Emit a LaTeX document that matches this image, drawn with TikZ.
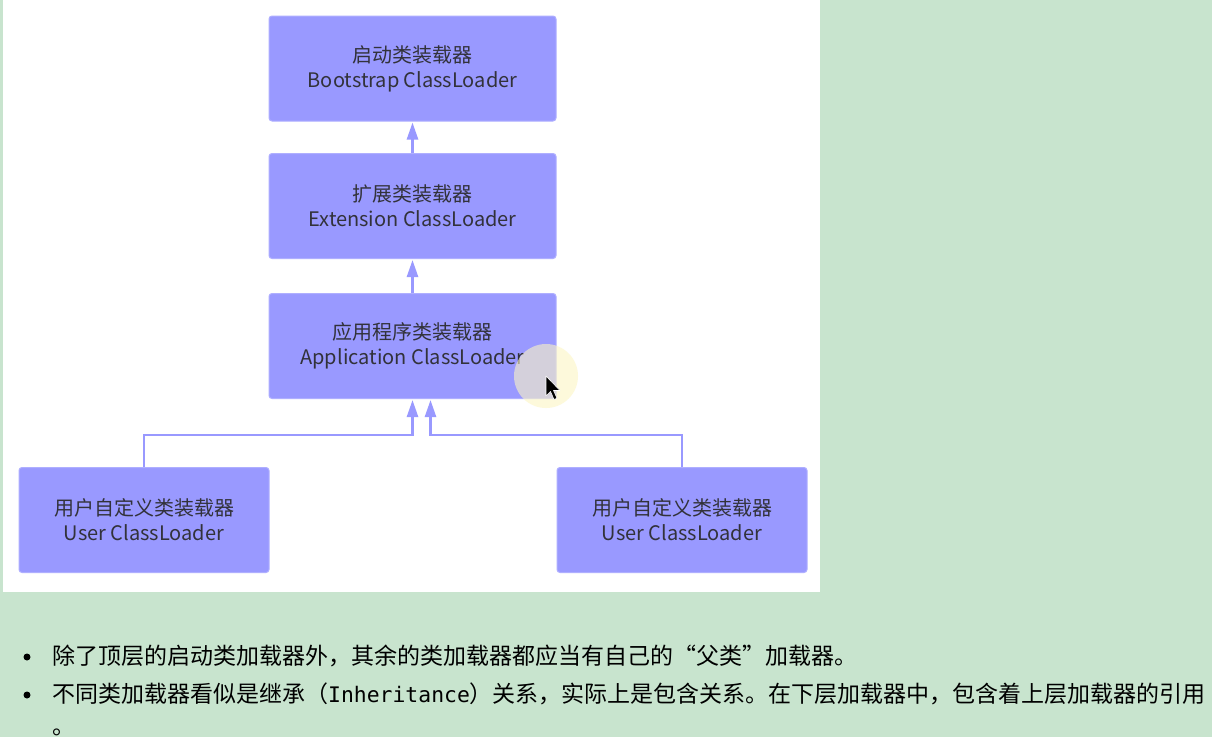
\documentclass[tikz,border=0pt]{standalone}
\usepackage{fontspec}
\newfontfamily\cjk{Noto Sans CJK SC}
\newfontfamily\monof{DejaVu Sans Mono}
\usetikzlibrary{arrows.meta}
\definecolor{bg}{RGB}{200,228,206}
\definecolor{boxc}{RGB}{153,153,255}
\definecolor{boxedge}{RGB}{175,175,255}
\definecolor{txt}{RGB}{50,50,58}
\definecolor{hl}{RGB}{252,246,196}
\begin{document}
\begin{tikzpicture}[x=1pt,y=-1pt,
  loader/.style={draw=boxedge, line width=1pt, fill=boxc, rounded corners=3pt,
    minimum width=287pt, minimum height=105pt, inner sep=0pt, align=center,
    font=\cjk\fontsize{20}{25}\selectfont, text=txt},
  userbox/.style={loader, minimum width=250pt},
  conn/.style={draw=boxc, line width=2.5pt, -{Triangle[length=17pt,width=11pt]}},
  para/.style={anchor=base west, inner sep=0pt, font=\cjk\fontsize{23}{23}\selectfont, text=black}]
\useasboundingbox (0,0) rectangle (1212,737);
\fill[bg] (0,0) rectangle (1212,737);
\fill[white] (3,0) rectangle (820,592);

\node[loader] (boot) at (412.5,68.5) {启动类装载器\\Bootstrap ClassLoader};
\node[loader] (ext) at (412.5,206) {扩展类装载器\\Extension ClassLoader};
\node[loader] (app) at (412.5,346) {应用程序类装载器\\Application ClassLoader};
\node[userbox] (ul) at (144,520) {用户自定义类装载器\\User ClassLoader};
\node[userbox] (ur) at (682,520) {用户自定义类装载器\\User ClassLoader};

\coordinate (aL) at ([yshift=-1pt]app.south);
\coordinate (aR) at ([xshift=18pt,yshift=-1pt]app.south);

\draw[conn] (ext.north) -- ([yshift=-1pt]boot.south);
\draw[conn] (app.north) -- ([yshift=-1pt]ext.south);
\draw[conn] (ul.north) |- ([yshift=-35pt]aL) -- (aL);
\draw[conn] (ur.north) |- ([yshift=-35pt]aR) -- (aR);

% screen cursor highlight
\fill[hl, opacity=0.6] (546,376) circle (32pt);
\filldraw[black, draw=white, line width=0.6pt, line join=round]
  (546,376) -- (546,396) -- (550.5,391.5) -- (554,399.5) -- (557,398.2) -- (553.5,390.5) -- (560,390.5) -- cycle;

% bullets
\fill[black] (27,657) circle (3.5pt);
\fill[black] (27,695) circle (3.5pt);
\node[para] (l1) at (52,664) {除了顶层的启动类加载器外，其余的类加载器都应当有自己的“父类”加载器。};
\node[para] (l2) at (52,702) {不同类加载器看似是继承（{\monof\fontsize{21.4}{21.4}\selectfont Inheritance}）关系，实际上是包含关系。在下层加载器中，包含着上层加载器的引用};
\node[para] (l3) at (52,734) {。};
\end{tikzpicture}
\end{document}
